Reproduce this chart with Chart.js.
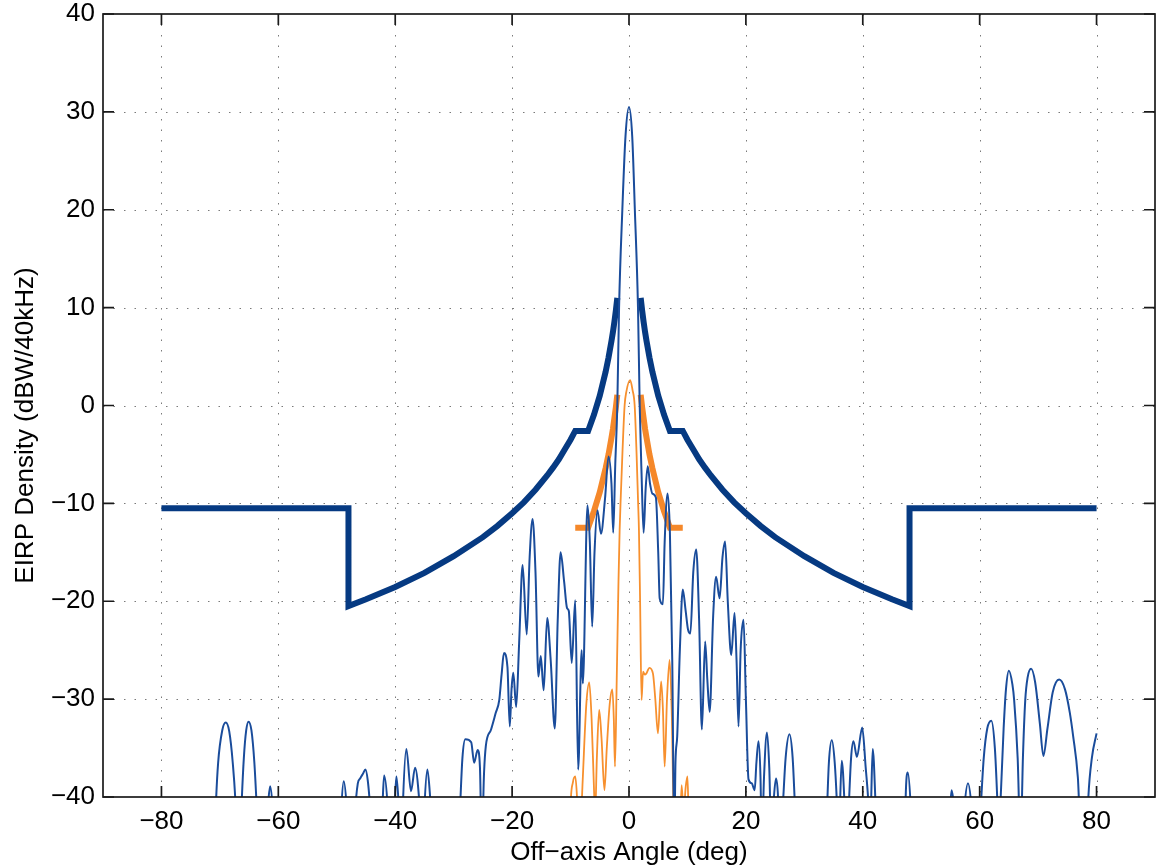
<!DOCTYPE html>
<html>
<head>
<meta charset="utf-8">
<title>EIRP Density vs Off-axis Angle</title>
<script src="https://cdn.jsdelivr.net/npm/chart.js@4.4.1/dist/chart.umd.min.js"></script>
<style>
  html, body { margin: 0; padding: 0; background: #fff; }
  #wrap { width: 1157px; height: 868px; }
</style>
</head>
<body>
<div id="wrap"><canvas id="eirpChart" width="1157" height="868"></canvas></div>
<script>
// Tick positions
const xTicks = [-80, -60, -40, -20, 0, 20, 40, 60, 80];
const yTicks = [-40, -30, -20, -10, 0, 10, 20, 30, 40];

// Antenna pattern, large dish (thin blue)
const blueAngle = [-80, -71.2, -70.7, -70.3, -69.6, -69.0, -68.4, -67.8, -67.3, -66.8, -66.3, -65.9, -65.5, -65.1, -64.6, -64.1, -63.7, -63.0,
  -61.8, -61.4, -61.0, -60.0, -50.0, -49.2, -48.8, -48.3, -47.5, -46.8, -46.4, -46.0, -45.5, -45.1, -44.7, -44.3, -43.4,
  -42.2, -41.9, -41.3, -40.7, -40.1, -39.8, -39.4, -39.0, -38.7, -38.1, -37.3, -36.6, -35.8, -35.3, -35.0, -34.5, -33.9,
  -32.0, -30.0, -28.9, -28.5, -28.0, -27.0, -26.5, -25.9, -25.5, -25.2, -24.8, -24.5, -23.6, -22.8, -22.2, -21.8, -21.4,
  -20.8, -20.4, -20.1, -19.8, -19.3, -18.8, -18.2, -17.5, -17.0, -16.5, -16.0, -15.5, -15.1, -14.6, -14.0, -13.4, -12.7,
  -12.2, -11.7, -11.1, -10.6, -10.3, -9.8, -9.2, -8.7, -8.1, -7.9, -7.1, -6.7, -6.3, -5.9, -5.4, -4.8, -4.1, -3.5, -3.0,
  -2.7, -2.35, -2.0, -1.7, -1.14, -0.6, 0, 0.55, 1.0, 1.54, 1.83, 2.15, 2.5, 2.85, 3.2, 3.6, 4.0, 4.6, 5.0, 5.25, 5.8,
  6.1, 6.6, 7.0, 7.4, 7.75, 7.95, 8.25, 8.7, 9.2, 9.7, 10.1, 10.5, 11.0, 11.5, 12.0, 12.47, 13.03, 13.4, 13.8, 14.4,
  14.9, 15.5, 16.0, 16.45, 16.9, 17.5, 18.06, 18.4, 18.74, 19.1, 19.6, 20.0, 20.45, 21.0, 21.5, 21.8, 22.16, 22.5,
  22.72, 23.1, 23.6, 24.0, 24.38, 24.8, 25.16, 25.5, 25.74, 26.3, 26.8, 27.45, 28.0, 28.4, 29.5, 33.0, 33.9, 34.2,
  34.7, 35.2, 35.6, 35.9, 36.1, 36.4, 36.9, 37.2, 37.6, 38.0, 38.4, 39.0, 39.9, 40.5, 41.0, 41.2, 41.4, 41.7, 42.2,
  43.0, 47.0, 47.3, 47.7, 48.2, 49.0, 54.5, 55.0, 55.2, 55.6, 56.5, 57.4, 58.0, 58.6, 59.5, 60.2, 60.7, 61.3, 62.0,
  62.6, 63.0, 63.3, 63.6, 64.1, 64.5, 65.0, 65.6, 65.9, 66.5, 67.0, 67.4, 67.8, 68.2, 68.8, 69.5, 70.3, 70.9, 71.6,
  72.5, 73.6, 74.6, 75.4, 76.0, 76.8, 77.4, 78.3, 78.6, 79.2, 80.0];
const blueEirp = [-55, -50, -41, -36.5, -33.2, -32.4, -33.3, -36.5, -41, -50, -41, -36, -33.2, -32.3, -33.2, -36.5, -41, -50,
  -41, -38.9, -41, -55, -55, -41, -38.4, -41, -50, -41, -38.6, -38.1, -37.6, -37.2, -38.3, -41, -50,
  -41, -37.8, -41, -50, -41, -37.9, -41, -48, -41, -35.1, -39.4, -37.0, -41, -46, -41, -37.2, -41,
  -55, -55, -41, -36, -34.1, -34.4, -36.5, -35.2, -37, -45, -37.5, -34.8, -33.1, -31.4, -30.1, -27.5, -25.3,
  -26.7, -32.8, -29, -27.3, -30.8, -24.3, -16.3, -23.4, -15.5, -11.6, -17, -27.7, -25.6, -29.1, -21.7, -26, -33.0,
  -22, -15.0, -18, -20.7, -21.0, -26.3, -19.9, -37.2, -25.0, -28.4, -10.2, -14, -22.6, -15, -10.7, -13.1, -9.5, -5.2, -8,
  -13, -6, 0, 10, 20, 27.5, 30.5, 27.5, 20, 10, 0, -7, -13, -8.5, -6.2, -8, -9.0, -9.4, -15, -19.7, -20.3,
  -14, -9.0, -13, -26, -45, -36.5, -33.8, -25, -18.8, -21, -22.9, -23.3, -17, -14.7, -22, -33.1, -24.1, -28, -31.3, -21.5,
  -17.5, -19.7, -15.5, -13.9, -20, -25.5, -21.2, -26, -32.8, -25, -21.9, -30, -38.2, -38.6, -39.3, -36.5, -34.3, -38,
  -45, -38, -33.4, -37, -45, -40, -38.1, -40, -45, -41, -36, -33.6, -36, -41, -55, -55, -41, -36.5,
  -34.2, -36.5, -41, -46, -41, -36.3, -41, -46, -41, -36, -34.3, -35.9, -32.9, -37, -41, -44, -41, -35.1, -41,
  -55, -55, -41, -37.5, -41, -55, -55, -41, -39.3, -41, -50, -41, -38.6, -41, -50, -41, -36, -33, -32.2,
  -35, -40, -45, -40, -33, -29, -27.1, -28.5, -30.1, -36, -45, -36, -30.1, -27.8, -26.9, -28.3, -32.5, -35.8, -33,
  -29.3, -28.0, -29, -31.3, -33.8, -38, -45, -45, -40, -36, -33.5];

// Antenna pattern, small dish (thin orange)
const orangeAngle = [-10.3, -10.0, -9.6, -9.2, -8.9, -8.6, -8.2, -7.9, -7.3, -6.8, -6.4, -6.0, -5.8, -5.5, -5.1, -4.7, -4.2,
  -3.8, -3.3, -2.85, -2.6, -2.4, -2.1, -1.8, -1.6, -1.4, -1.1, -0.75, -0.46, 0.2, 0.6, 0.97, 1.3, 1.54, 1.7, 1.9, 2.15,
  2.4, 2.7, 2.95, 3.5, 4.1, 4.5, 4.95, 5.5, 5.8, 6.1, 6.5, 6.95, 7.3, 7.8, 8.6, 9.0, 9.35, 9.7, 10.0, 10.2];
const orangeEirp = [-50, -41, -38.5, -37.9, -40, -45, -42, -38, -30.5, -28.3, -32, -39, -42, -36, -31.1, -34, -39.3,
  -35, -30.5, -29.0, -32, -36.9, -28, -18, -12.7, -9.2, -4.5, 0, 1.4, 2.6, 1.6, 0, -5, -9.6, -12.7, -20, -30.1,
  -27.2, -27.5, -27.4, -26.8, -27.4, -30, -33.5, -28.2, -31, -36.9, -30, -26.0, -31, -45, -45, -38.8, -41.5, -39, -37.9, -42];

// Off-axis EIRP density masks (thick lines); null breaks the line at boresight
const maskAngle = [-80, -48, -48, -45, -40, -35, -30, -25, -22.5, -20, -18, -16, -14, -13, -12, -11, -10, -9.2, -7, -6, -5,
  -4, -3.5, -3, -2.75, -2.5, -2.25, -2, 0, 2, 2.25, 2.5, 2.75, 3, 3.5, 4, 5, 6, 7, 9.2, 10, 11, 12, 13, 14, 16, 18,
  20, 22.5, 25, 30, 35, 40, 45, 48, 48, 80];
const maskEirp = [-10.5, -10.5, -20.5, -19.8, -18.55, -17.1, -15.4, -13.45, -12.3, -11.0, -9.9, -8.6, -7.15, -6.35, -5.5, -4.5, -3.5, -2.6, -2.6, -0.95, 1.0,
  3.45, 4.9, 6.6, 7.5, 8.55, 9.7, 11.0, null, 11.0, 9.7, 8.55, 7.5, 6.6, 4.9, 3.45, 1.0, -0.95, -2.6, -2.6, -3.5, -4.5, -5.5, -6.35, -7.15, -8.6, -9.9,
  -11.0, -12.3, -13.45, -15.4, -17.1, -18.55, -19.8, -20.5, -10.5, -10.5];
const smallMaskAngle = [-9.2, -7, -6, -5, -4, -3.5, -3, -2.75, -2.5, -2.25, -2, 0, 2, 2.25, 2.5, 2.75, 3, 3.5, 4, 5, 6, 7, 9.2];
const smallMaskEirp = [-12.5, -12.5, -10.8, -8.85, -6.4, -5.0, -3.3, -2.4, -1.3, -0.2, 1.1, null, 1.1, -0.2, -1.3, -2.4, -3.3, -5.0, -6.4, -8.85, -10.8, -12.5, -12.5];

const yTitle = "EIRP Density (dBW/40kHz)";
const xTitle = "Off\u2212axis Angle (deg)";

const zip = (xs, ys) => xs.map((x, i) => ({ x: x, y: ys[i] }));
const minusFmt = (v) => (v < 0 ? "\u2212" + Math.abs(v) : String(v));
const fontFamily = "'Liberation Sans', Arial, Helvetica, sans-serif";

Chart.defaults.font.family = fontFamily;
Chart.defaults.color = "#000";

// MATLAB-style frame: dotted grid, black box, inward tick marks, y label
const matlabFrame = {
  id: "matlabFrame",
  beforeDatasetsDraw(chart) {
    const { ctx, chartArea: a, scales: { x, y } } = chart;
    ctx.save();
    ctx.strokeStyle = "#7a7a7a";
    ctx.lineWidth = 1;
    ctx.setLineDash([1.5, 9]);
    xTicks.forEach((v) => {
      const px = Math.round(x.getPixelForValue(v)) + 0.5;
      ctx.beginPath();
      ctx.moveTo(px, a.top);
      ctx.lineTo(px, a.bottom);
      ctx.stroke();
    });
    yTicks.slice(1, -1).forEach((v) => {
      const py = Math.round(y.getPixelForValue(v)) + 0.5;
      ctx.beginPath();
      ctx.moveTo(a.left, py);
      ctx.lineTo(a.right, py);
      ctx.stroke();
    });
    ctx.restore();
  },
  afterDatasetsDraw(chart) {
    const { ctx, chartArea: a, scales: { x, y } } = chart;
    const len = 11;
    ctx.save();
    ctx.strokeStyle = "#1a1a1a";
    ctx.lineWidth = 1.7;
    ctx.setLineDash([]);
    ctx.strokeRect(a.left, a.top, a.right - a.left, a.bottom - a.top);
    ctx.beginPath();
    xTicks.forEach((v) => {
      const px = x.getPixelForValue(v);
      ctx.moveTo(px, a.bottom);
      ctx.lineTo(px, a.bottom - len);
      ctx.moveTo(px, a.top);
      ctx.lineTo(px, a.top + len);
    });
    yTicks.forEach((v) => {
      const py = y.getPixelForValue(v);
      ctx.moveTo(a.left, py);
      ctx.lineTo(a.left + len, py);
      ctx.moveTo(a.right, py);
      ctx.lineTo(a.right - len, py);
    });
    ctx.stroke();

    // y axis label, sits a little below the axis centre as in the original
    ctx.translate(26, (a.top + a.bottom) / 2 + 20);
    ctx.rotate(-Math.PI / 2);
    ctx.font = "26px " + fontFamily;
    ctx.fillStyle = "#000";
    ctx.textAlign = "center";
    ctx.textBaseline = "middle";
    ctx.fillText(yTitle, 0, 0);
    ctx.restore();
  }
};

const ctx = document.getElementById("eirpChart").getContext("2d");
new Chart(ctx, {
  type: "line",
  data: {
    datasets: [
      {
        label: "Large antenna",
        data: zip(blueAngle, blueEirp),
        borderColor: "#1a4c9b",
        borderWidth: 2,
        pointRadius: 0,
        cubicInterpolationMode: "monotone",
        clip: 0
      },
      {
        label: "Small antenna",
        data: zip(orangeAngle, orangeEirp),
        borderColor: "#f7902e",
        borderWidth: 1.8,
        pointRadius: 0,
        cubicInterpolationMode: "monotone",
        clip: 0
      },
      {
        label: "Small antenna mask",
        data: zip(smallMaskAngle, smallMaskEirp),
        borderColor: "#f5882a",
        borderWidth: 6,
        pointRadius: 0,
        tension: 0,
        spanGaps: false
      },
      {
        label: "EIRP mask",
        data: zip(maskAngle, maskEirp),
        borderColor: "#063a82",
        borderWidth: 6,
        pointRadius: 0,
        tension: 0,
        spanGaps: false
      }
    ]
  },
  options: {
    responsive: false,
    animation: false,
    layout: { padding: { top: 14, right: 2, left: 0, bottom: 0 } },
    plugins: {
      legend: { display: false },
      tooltip: { enabled: false }
    },
    scales: {
      x: {
        type: "linear",
        min: -90,
        max: 90,
        afterBuildTicks: (axis) => { axis.ticks = xTicks.map((v) => ({ value: v })); },
        afterFit: (axis) => {
          axis.height = 71;
          axis.paddingLeft = 0;
          axis.paddingRight = 0;
        },
        grid: { display: false, drawTicks: false },
        border: { display: false },
        ticks: {
          font: { size: 26 },
          color: "#000",
          padding: 9,
          maxRotation: 0,
          autoSkip: false,
          callback: (v) => minusFmt(v)
        },
        title: {
          display: true,
          text: xTitle,
          font: { size: 26 },
          color: "#000",
          padding: { top: 0, bottom: 0 }
        }
      },
      y: {
        type: "linear",
        min: -40,
        max: 40,
        afterBuildTicks: (axis) => { axis.ticks = yTicks.map((v) => ({ value: v })); },
        afterFit: (axis) => {
          axis.width = 103;
          axis.paddingTop = 0;
          axis.paddingBottom = 0;
        },
        grid: { display: false, drawTicks: false },
        border: { display: false },
        ticks: {
          font: { size: 26 },
          color: "#000",
          padding: 8,
          autoSkip: false,
          callback: (v) => minusFmt(v)
        }
      }
    }
  },
  plugins: [matlabFrame]
});
</script>
</body>
</html>
